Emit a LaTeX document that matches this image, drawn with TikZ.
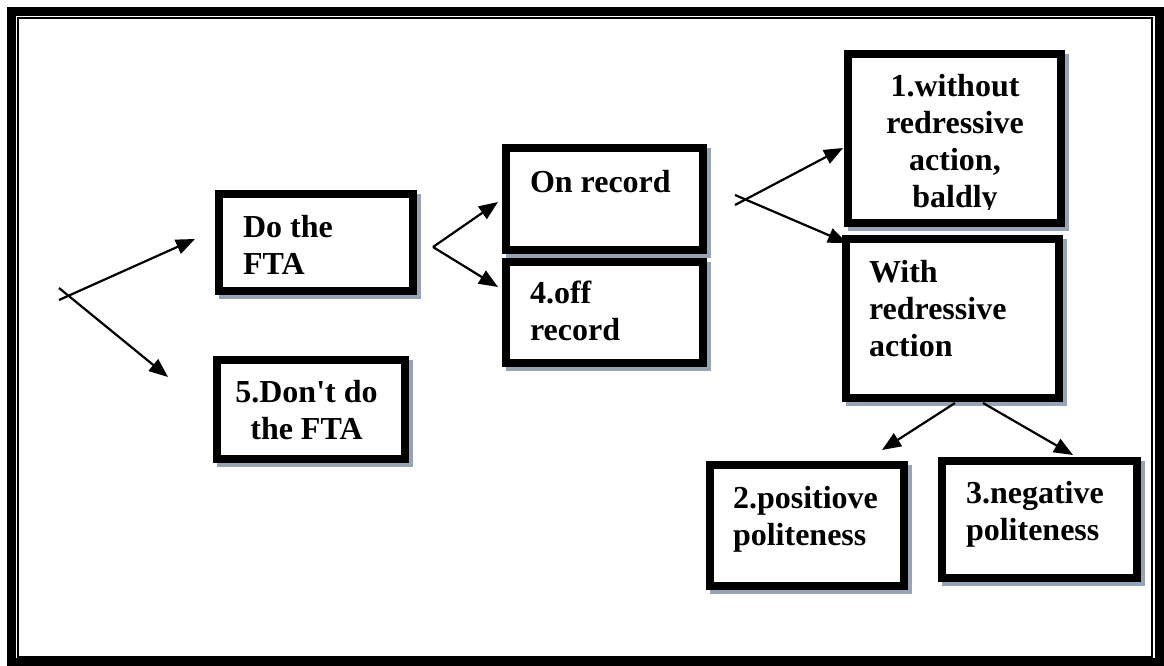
\documentclass[tikz,border=0pt]{standalone}
\usepackage{fontspec}
\setmainfont{Liberation Serif}
\usetikzlibrary{arrows.meta}
\definecolor{shadowgray}{HTML}{97A3B6}
\tikzset{
  boxframe/.style={draw=black, line width=8pt, fill=white, inner sep=0pt, outer sep=0pt},
  boxshadow/.style={fill=shadowgray, draw=none},
  lbl/.style={inner sep=0pt, outer sep=0pt, anchor=base west, font=\bfseries\fontsize{32}{37}\selectfont},
  clbl/.style={inner sep=0pt, outer sep=0pt, anchor=base, font=\bfseries\fontsize{32}{37}\selectfont},
  conn/.style={line width=2.2pt, -{Triangle[length=19pt 0 0,width=15pt 0 0]}},
  framethick/.style={draw=black, line width=9pt},
  framethin/.style={draw=black, line width=2pt}
}
\begin{document}
\begin{tikzpicture}[x=1pt,y=-1pt]
\useasboundingbox (0,0) rectangle (1164,666);
% page frame
\draw[framethick] (11.5,11.5) rectangle (1159.5,662);
\draw[framethin] (18,18) rectangle (1152,657);

% shadows
\path[boxshadow] (219,194) rectangle (421,299);
\path[boxshadow] (217,360) rectangle (413,467);
\path[boxshadow] (506,148) rectangle (711,258);
\path[boxshadow] (506,262) rectangle (711,371);
\path[boxshadow] (848,54) rectangle (1069,231);
\path[boxshadow] (846,239) rectangle (1067,406);
\path[boxshadow] (710,465) rectangle (912,594);
\path[boxshadow] (942,461) rectangle (1145,586);

% boxes
\node[boxframe, minimum width=194pt, minimum height=97pt] (A) at (316,242.5) {};
\node[boxframe, minimum width=188pt, minimum height=99pt] (B) at (311,409.5) {};
\node[boxframe, minimum width=197pt, minimum height=102pt] (C) at (604.5,199) {};
\node[boxframe, minimum width=197pt, minimum height=101pt] (D) at (604.5,312.5) {};
\node[boxframe, minimum width=213pt, minimum height=169pt] (E) at (954.5,138.5) {};
\node[boxframe, minimum width=213pt, minimum height=159pt] (F) at (952.5,318.5) {};
\node[boxframe, minimum width=194pt, minimum height=121pt] (G) at (807,525.5) {};
\node[boxframe, minimum width=195pt, minimum height=117pt] (H) at (1039.5,519.5) {};

% texts
\node[lbl] (tA) at (243,237) {\parbox[t]{160pt}{\raggedright Do the\\FTA}};
\node[clbl] (tB) at (306.5,402) {\parbox[t]{180pt}{\centering 5.Don\textquotesingle t do\\the FTA}};
\node[lbl] (tC) at (530,192) {\parbox[t]{170pt}{\raggedright On record}};
\node[lbl] (tD) at (530,303) {\parbox[t]{170pt}{\raggedright 4.off\\record}};
\begin{scope}
  \clip (844,50) rectangle (1065,209);
  \node[clbl] (tE) at (955,96.5) {\parbox[t]{205pt}{\centering 1.without\\redressive\\action,\\baldly}};
\end{scope}
\node[lbl] (tF) at (869,282) {\parbox[t]{190pt}{\raggedright With\\redressive\\action}};
\node[lbl] (tG) at (733,508) {\parbox[t]{170pt}{\raggedright 2.positiove\\politeness}};
\node[lbl] (tH) at (966,503.5) {\parbox[t]{170pt}{\raggedright 3.negative\\politeness}};

% connector end points
\coordinate (f1s) at (59,300);
\coordinate (f1e) at (195,239);
\coordinate (f2s) at (59,288);
\coordinate (f2e) at (168,377);
\coordinate (m0) at (433,247);
\coordinate (m1) at (498,202);
\coordinate (m2) at (498,287);
\coordinate (r1s) at (735,205);
\coordinate (r1e) at (843,148);
\coordinate (r2s) at (735,195);
\coordinate (r2e) at (847,243);
\coordinate (b1s) at (955,403);
\coordinate (b1e) at (882,450);
\coordinate (b2s) at (983,403);
\coordinate (b2e) at (1073,455);

% connectors
\draw[conn] (f1s) -- (f1e);
\draw[conn] (f2s) -- (f2e);
\draw[conn] (m0) -- (m1);
\draw[conn] (m0) -- (m2);
\draw[conn] (r1s) -- (r1e);
\draw[conn] (r2s) -- (r2e);
\draw[conn] (b1s) -- (b1e);
\draw[conn] (b2s) -- (b2e);
\end{tikzpicture}
\end{document}
